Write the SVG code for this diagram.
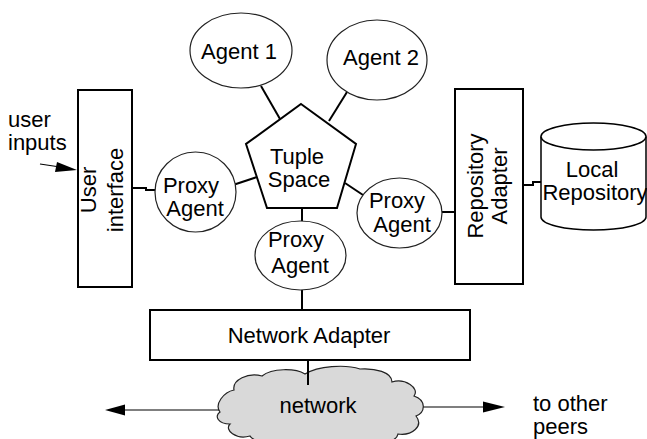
<svg xmlns="http://www.w3.org/2000/svg" width="647" height="439" viewBox="0 0 647 439">
  <style>
    text { font-family: "Liberation Sans", Arial, sans-serif; font-size: 22px; fill: #000; }
    .mid { text-anchor: middle; }
    .box { fill: #fff; stroke: #000; stroke-width: 2; }
    .oval { fill: #fff; stroke: #222; stroke-width: 1.2; }
    .wire { fill: none; stroke: #000; stroke-width: 2; }
    .thin { fill: none; stroke: #000; stroke-width: 1.2; }
    .head { fill: #000; stroke: none; }
  </style>
  <rect width="647" height="439" fill="#fff"/>

  <!-- connectors -->
  <g id="connectors">
    <path class="wire" d="M261 86 L280 119"/>
    <path class="wire" d="M347 92 L329 121"/>
    <path class="wire" d="M132 188 L146 188 L146 190 L155 190"/>
    <path class="wire" d="M233 185 L257 177"/>
    <path class="wire" d="M345 183 L363 195"/>
    <path class="wire" d="M442 212 L455 212"/>
    <path class="wire" d="M302 208 L302 221"/>
    <path class="wire" d="M302 290 L302 311"/>
    <path class="wire" d="M523 185 L533 185 L533 182 L542 182"/>
    <path class="wire" d="M308 360 L308 385"/>
    <!-- user input arrow -->
    <path class="thin" d="M40 164 L60 167"/>
    <polygon class="head" points="77,170 57,162 55,172"/>
    <!-- network arrows -->
    <path class="thin" d="M125 410 L219 410"/>
    <polygon class="head" points="105,410 125,404.5 125,415.5"/>
    <path class="thin" d="M422 407 L484 407"/>
    <polygon class="head" points="505,407 483,401.5 483,412.5"/>
  </g>

  <g id="agent1">
    <ellipse class="oval" cx="241" cy="50.5" rx="51" ry="37.5"/>
    <text class="mid" x="239" y="59">Agent 1</text>
  </g>

  <g id="agent2">
    <ellipse class="oval" cx="377" cy="60" rx="50" ry="40"/>
    <text class="mid" x="381" y="65">Agent 2</text>
  </g>

  <g id="tuple-space">
    <polygon class="box" points="301,104 356,144 337,208 267,208 246,144"/>
    <text class="mid" x="297" y="164">Tuple</text>
    <text class="mid" x="299" y="187">Space</text>
  </g>

  <g id="user-interface">
    <rect class="box" x="78" y="90" width="54" height="197"/>
    <text class="mid" transform="translate(96,190) rotate(-90)">User</text>
    <text class="mid" transform="translate(123,190) rotate(-90)">interface</text>
  </g>

  <g id="user-inputs">
    <text x="8" y="127">user</text>
    <text x="8" y="150">inputs</text>
  </g>

  <g id="proxy-left">
    <ellipse class="oval" cx="195.5" cy="192" rx="40.5" ry="40"/>
    <text class="mid" x="191" y="193">Proxy</text>
    <text class="mid" x="195" y="216">Agent</text>
  </g>

  <g id="proxy-right">
    <ellipse class="oval" cx="399.5" cy="213" rx="42.5" ry="35"/>
    <text class="mid" x="397" y="208">Proxy</text>
    <text class="mid" x="402" y="232">Agent</text>
  </g>

  <g id="proxy-bottom">
    <ellipse class="oval" cx="300.5" cy="255.5" rx="45.5" ry="34.5"/>
    <text class="mid" x="296" y="247">Proxy</text>
    <text class="mid" x="300" y="273">Agent</text>
  </g>

  <g id="repository-adapter">
    <rect class="box" x="455" y="89" width="68" height="195"/>
    <text class="mid" transform="translate(483,186) rotate(-90)">Repository</text>
    <text class="mid" transform="translate(507,186) rotate(-90)">Adapter</text>
  </g>

  <g id="local-repository">
    <path fill="#fff" stroke="#000" stroke-width="1.5" d="M541 136.5 L541 217 A52.5 13 0 0 0 646 217 L646 136.5"/>
    <ellipse fill="#fff" stroke="#000" stroke-width="1.5" cx="593.5" cy="136.5" rx="52.5" ry="13.5"/>
    <text class="mid" x="592" y="177">Local</text>
    <text class="mid" x="595" y="200">Repository</text>
  </g>

  <g id="network-adapter">
    <rect class="box" x="150" y="310" width="320" height="50"/>
    <text class="mid" x="309" y="343">Network Adapter</text>
  </g>

  <g id="network">
    <path fill="#d9d9d9" stroke="#222" stroke-width="1.2" d="M220 412 C214 404 224 392 234 390 C232 380 248 372 262 376 C272 368 295 368 305 374 C318 366 345 364 360 369 C375 368 392 372 392 382 C405 378 420 388 414 396 C426 400 426 412 416 416 C424 426 412 436 398 434 C396 444 370 446 360 440 C340 446 310 446 300 441 C285 446 255 444 250 436 C236 440 224 430 230 424 C218 424 214 416 220 412 Z"/>
    <path class="wire" d="M308 370 L308 385"/>
    <text class="mid" x="318" y="413">network</text>
  </g>

  <g id="peers-label">
    <text x="533" y="411">to other</text>
    <text x="533" y="434">peers</text>
  </g>
</svg>
